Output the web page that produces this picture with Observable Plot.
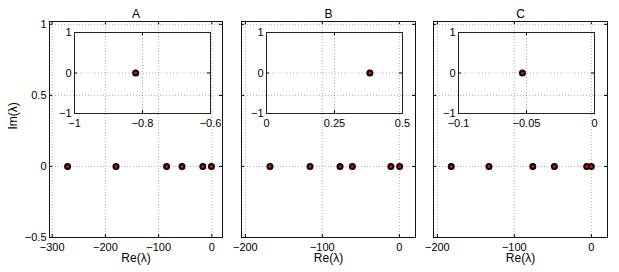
<!DOCTYPE html>
<html><head><meta charset="utf-8">
<script src="https://cdn.jsdelivr.net/npm/d3@7"></script>
<script src="https://cdn.jsdelivr.net/npm/@observablehq/plot@0.6"></script>
<style>
html,body{margin:0;padding:0;background:#fff;}
#chart{position:relative;width:619px;height:272px;overflow:hidden;}
#chart svg{position:absolute;}
</style></head><body><div id="chart"></div>
<script>
// ---- data ----
const panelTitles = ["A", "B", "C"];
const reA = [-271, -180, -85, -56, -17, -0.82];
const imA = [0, 0, 0, 0, 0, 0];
const reB = [-168, -116, -77, -61, -11, 0.38];
const imB = [0, 0, 0, 0, 0, 0];
const reC = [-182, -133, -76, -48, -6, -0.053];
const imC = [0, 0, 0, 0, 0, 0];
// zoomed (inset) eigenvalue closest to the origin
const zoomReA = [-0.82], zoomReB = [0.38], zoomReC = [-0.053];
const zoomIm = [0];
// tick labels
const xTicksA = [-300, -200, -100, 0];
const xTicksB = [-200, -100, 0];
const xTicksC = [-200, -100, 0];
const yTicks = [-0.5, 0, 0.5, 1];
const insetXTicksA = [-1, -0.8, -0.6];
const insetXTicksB = [0, 0.25, 0.5];
const insetXTicksC = [-0.1, -0.05, 0];
const insetYTicks = [-1, 0, 1];
const xLabel = "Re(λ)";
const yLabel = "Im(λ)";

// ---- layout / style ----
const FONT = "'Liberation Sans', Arial, Helvetica, sans-serif";
const chart = document.getElementById("chart");
const rows = (re, im) => re.map((r, i) => ({re: r, im: im[i]}));
const fmt = d => String(d).replace("-", "\u2212");

function axesMarks(xT, yT, fw, fh, showY) {
  const t = 3;
  return [
    Plot.gridX(xT, {stroke: "#000", strokeOpacity: 0.3, strokeDasharray: "1,2"}),
    Plot.gridY(yT, {stroke: "#000", strokeOpacity: 0.3, strokeDasharray: "1,2"}),
    Plot.ruleX(xT, {insetTop: fh - t, stroke: "#000"}),
    Plot.ruleX(xT, {insetBottom: fh - t, stroke: "#000"}),
    Plot.ruleY(yT, {insetRight: fw - t, stroke: "#000"}),
    Plot.ruleY(yT, {insetLeft: fw - t, stroke: "#000"}),
    Plot.axisX(xT, {tickSize: 0, tickPadding: 6, fontSize: 11, tickFormat: fmt, label: null}),
    showY ? Plot.axisY(yT, {tickSize: 0, tickPadding: 3, fontSize: 11, tickFormat: fmt, label: null})
          : Plot.axisY(yT, {tickSize: 0, tickFormat: () => "", label: null}),
  ];
}

function place(svg, left, top) {
  svg.style.left = left + "px";
  svg.style.top = top + "px";
  chart.appendChild(svg);
}

function outer({title, data, xDomain, xT, left, width, ml, mr, showY}) {
  const mt = 21, mb = 35, height = 272;
  const fw = width - ml - mr, fh = height - mt - mb;
  const marks = [
    ...axesMarks(xT, yTicks, fw, fh, showY),
    Plot.dot(data, {x: "re", y: "im", r: 2.5, fill: "#ff0000", stroke: "#000", strokeWidth: 2}),
    Plot.frame({stroke: "#111"}),
    Plot.text([title], {frameAnchor: "top", dy: -12.5, fontSize: 12}),
    Plot.text([xLabel], {frameAnchor: "bottom", dy: 24.5, fontSize: 12}),
  ];
  if (showY) marks.push(Plot.text([yLabel], {frameAnchor: "left", dx: -36, rotate: -90, fontSize: 12}));
  const svg = Plot.plot({
    width, height, marginLeft: ml, marginRight: mr, marginTop: mt, marginBottom: mb,
    x: {domain: xDomain, label: null}, y: {domain: [-0.5, 1.02], label: null},
    style: {fontFamily: FONT, fontSize: "11px", background: "transparent", overflow: "visible", color: "#000"},
    marks
  });
  place(svg, left, 0);
}

function inset({data, xDomain, xT, left, width, ml, mr}) {
  const mt = 12, mb = 22, height = 115;
  const fw = width - ml - mr, fh = height - mt - mb;
  const svg = Plot.plot({
    width, height, marginLeft: ml, marginRight: mr, marginTop: mt, marginBottom: mb,
    x: {domain: xDomain, label: null}, y: {domain: [-1, 1], label: null},
    style: {fontFamily: FONT, fontSize: "11px", background: "transparent", overflow: "visible", color: "#000"},
    marks: [
      ...axesMarks(xT, insetYTicks, fw, fh, true),
      Plot.dot(data, {x: "re", y: "im", r: 2.5, fill: "#ff0000", stroke: "#000", strokeWidth: 2}),
      Plot.frame({stroke: "#222"})
    ]
  });
  place(svg, left, 20);
}

outer({title: panelTitles[0], data: rows(reA, imA), xDomain: [-305, 20], xT: xTicksA, left: 0, width: 226, ml: 49, mr: 4, showY: true});
outer({title: panelTitles[1], data: rows(reB, imB), xDomain: [-205, 21], xT: xTicksB, left: 200, width: 220, ml: 41, mr: 5, showY: false});
outer({title: panelTitles[2], data: rows(reC, imC), xDomain: [-205, 21], xT: xTicksC, left: 400, width: 219, ml: 33, mr: 12, showY: false});

inset({data: rows(zoomReA, zoomIm), xDomain: [-1, -0.6], xT: insetXTicksA, left: 40, width: 180, ml: 34, mr: 10});
inset({data: rows(zoomReB, zoomIm), xDomain: [0, 0.5], xT: insetXTicksB, left: 230, width: 180, ml: 36, mr: 8});
inset({data: rows(zoomReC, zoomIm), xDomain: [-0.1, 0], xT: insetXTicksC, left: 420, width: 185, ml: 38, mr: 11});
</script></body></html>
